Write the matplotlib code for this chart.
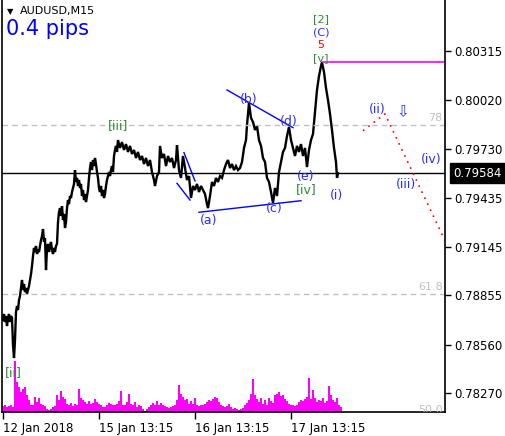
import numpy as np
import matplotlib.pyplot as plt
from matplotlib.transforms import blended_transform_factory

# AUDUSD M15 close path (bar position, price)
bar_x = [3, 4, 5, 6, 7, 8, 9, 10, 11, 12, 13, 14, 15, 16, 17, 18, 19, 20, 21, 22,
         23, 24, 25, 26, 27, 28, 29, 30, 31, 32, 33, 34, 35, 36, 37, 38, 39, 40, 41, 42,
         43, 44, 45, 46, 47, 48, 49, 50, 51, 52, 53, 54, 55, 56, 57, 58, 59, 60, 61, 62,
         63, 64, 65, 66, 67, 68, 69, 70, 71, 72, 73, 74, 75, 76, 77, 78, 79, 80, 81, 82,
         83, 84, 85, 86, 87, 88, 89, 90, 91, 92, 93, 94, 95, 96, 97, 98, 99, 100, 101, 102,
         103, 104, 105, 106, 107, 108, 109, 110, 111, 112, 113, 114, 115, 116, 117, 118, 119,
         120, 122, 124, 126, 128, 130, 132, 134, 136, 138, 140, 142, 144, 146, 148, 150, 152,
         154, 155, 157, 159, 160, 162, 164, 166, 168, 170, 172, 174, 176, 177, 179, 181, 183,
         185, 187, 189, 191, 193, 195, 197, 199, 201, 203, 205, 207, 208, 210, 212, 214, 216,
         218, 220, 222, 224, 226, 228, 230, 232, 234, 236, 238, 240, 242, 244, 246, 247, 249,
         251, 253, 255, 257, 259, 261, 263, 265, 267, 269, 271, 273, 275, 277, 279, 281, 283,
         285, 287, 289, 291, 293, 295, 297, 299, 301, 303, 305, 307, 309, 311, 313, 315, 317,
         319, 321, 322, 324, 326, 328, 330, 332, 334, 336, 337, 338]
close = [0.78708, 0.78744, 0.78696, 0.78732, 0.78672, 0.78720, 0.78744, 0.78696, 0.78732, 0.78720,
         0.78559, 0.78481, 0.78589, 0.78756, 0.78791, 0.78768, 0.78827, 0.78851, 0.78899, 0.78947,
         0.78887, 0.78923, 0.78875, 0.78899, 0.78863, 0.78887, 0.78911, 0.78947, 0.78982, 0.79030,
         0.79090, 0.79138, 0.79114, 0.79150, 0.79102, 0.79126, 0.79114, 0.79150, 0.79185, 0.79209,
         0.79251, 0.79174, 0.79197, 0.79006, 0.79138, 0.79162, 0.79114, 0.79150, 0.79174, 0.79126,
         0.79102, 0.79138, 0.79114, 0.79150, 0.79162, 0.79293, 0.79353, 0.79376, 0.79329, 0.79388,
         0.79305, 0.79341, 0.79257, 0.79293, 0.79376, 0.79424, 0.79400, 0.79448, 0.79436, 0.79472,
         0.79496, 0.79520, 0.79603, 0.79532, 0.79556, 0.79508, 0.79544, 0.79496, 0.79520, 0.79448,
         0.79484, 0.79424, 0.79460, 0.79412, 0.79448, 0.79484, 0.79556, 0.79615, 0.79651, 0.79603,
         0.79663, 0.79627, 0.79675, 0.79639, 0.79591, 0.79556, 0.79496, 0.79472, 0.79508, 0.79448,
         0.79484, 0.79436, 0.79460, 0.79508, 0.79544, 0.79567, 0.79591, 0.79567, 0.79603, 0.79627,
         0.79591, 0.79687, 0.79723, 0.79747, 0.79711, 0.79782, 0.79758,
         0.79735, 0.79770, 0.79723, 0.79758, 0.79711, 0.79747, 0.79699, 0.79723, 0.79675, 0.79711,
         0.79663, 0.79687, 0.79639, 0.79675, 0.79627, 0.79663, 0.79591, 0.79544, 0.79508, 0.79567,
         0.79591, 0.79747, 0.79675, 0.79699, 0.79627, 0.79687, 0.79651, 0.79675, 0.79615, 0.79663,
         0.79752, 0.79603, 0.79556, 0.79687, 0.79615, 0.79544, 0.79567, 0.79436, 0.79508, 0.79484,
         0.79520, 0.79472, 0.79508, 0.79484, 0.79460, 0.79400, 0.79376, 0.79448, 0.79532, 0.79508,
         0.79556, 0.79532, 0.79567, 0.79556, 0.79603, 0.79639, 0.79663, 0.79615, 0.79639, 0.79603,
         0.79627, 0.79603, 0.79615, 0.79651, 0.79735, 0.79782, 0.79872, 0.80003, 0.79914, 0.79890,
         0.79842, 0.79866, 0.79782, 0.79747, 0.79675, 0.79651, 0.79556, 0.79532, 0.79472, 0.79406,
         0.79496, 0.79448, 0.79591, 0.79651, 0.79711, 0.79735, 0.79806, 0.79860, 0.79782, 0.79735,
         0.79687, 0.79747, 0.79711, 0.79758, 0.79687, 0.79735, 0.79621, 0.79723, 0.79782, 0.79818,
         0.79949, 0.80081, 0.80164, 0.80224, 0.80245, 0.80188, 0.80093, 0.80021, 0.79938, 0.79842,
         0.79735, 0.79651, 0.79556, 0.79584]

# tick volume (relative), one value per two bars
vol = [6, 7, 5, 6, 7, 5, 51, 30, 25, 20, 23, 25, 17, 12, 7, 7, 15, 10, 14, 8,
       7, 6, 3, 2, 3, 5, 6, 17, 12, 21, 15, 13, 8, 7, 9, 6, 8, 7, 23, 14,
       12, 10, 8, 11, 8, 9, 13, 10, 8, 7, 5, 5, 7, 9, 8, 7, 7, 8, 11, 21,
       7, 7, 10, 18, 8, 7, 10, 5, 7, 6, 3, 1, 3, 5, 7, 9, 7, 11, 7, 9,
       7, 6, 5, 4, 5, 6, 7, 12, 27, 18, 15, 12, 13, 8, 11, 8, 14, 7, 6, 7,
       7, 8, 10, 12, 11, 13, 15, 14, 10, 7, 6, 5, 6, 8, 5, 3, 4, 3, 2, 3,
       4, 7, 9, 12, 18, 33, 17, 13, 10, 14, 8, 12, 7, 14, 11, 9, 17, 18, 20, 16,
       17, 13, 11, 8, 7, 7, 6, 7, 10, 12, 11, 13, 15, 34, 13, 22, 14, 10, 12, 11,
       14, 9, 11, 26, 17, 12, 10, 14, 7, 5]

price_ticks = [0.80315, 0.80020, 0.79730, 0.79435, 0.79145, 0.78855, 0.78560, 0.78270]
date_ticks = [3, 99, 195, 291]
date_labels = ['12 Jan 2018', '15 Jan 13:15', '16 Jan 13:15', '17 Jan 13:15']

current = 0.79584
fib_names = ['78', '61.8', '50.0']
fib_prices = [0.79872, 0.78863, 0.78128]

# wave counts: text, bar, price, colour, size
blue = '#2b2bff'
green = '#2e8b2e'
waves = [('[2]', 321, 0.80505, green, 8), ('(C)', 321, 0.80427, blue, 8),
         ('5', 321, 0.80350, 'red', 8), ('[v]', 321, 0.80274, green, 8),
         ('(b)', 249, 0.80027, blue, 9), ('(d)', 289, 0.79890, blue, 9),
         ('(a)', 209, 0.79299, blue, 9), ('(c)', 274, 0.79371, blue, 9),
         ('(e)', 306, 0.79562, blue, 9), ('[iv]', 306, 0.79488, green, 9),
         ('(i)', 337, 0.79454, blue, 9), ('(ii)', 377, 0.79967, blue, 9),
         ('(iii)', 406, 0.79514, blue, 9), ('(iv)', 431, 0.79669, blue, 9),
         ('[iii]', 118, 0.79866, green, 9), ('[ii]', 13, 0.78392, green, 9)]

# trend lines (x0, p0, x1, p1)
blue_lines = [(227, 0.80081, 293, 0.79856), (199, 0.79351, 301, 0.79420),
              (184, 0.79707, 195, 0.79538), (177, 0.79524, 190, 0.79424)]
proj_x = [363, 385, 447]
proj_p = [0.79838, 0.79938, 0.79157]

W, H = 505, 436
fig = plt.figure(figsize=(W / 100, H / 100), dpi=100)
rect = [2 / W, 24 / H, 443 / W, 412 / H]

# volume behind the price window
vax = fig.add_axes(rect, zorder=0)
vax.bar(np.arange(len(vol)) * 2 + 2, vol, width=2, align='edge', color='#ff00ff', linewidth=0)
vax.set_xlim(2, 445)
vax.set_ylim(0, 412)
vax.set_axis_off()

ax = fig.add_axes(rect, zorder=1)
ax.set_facecolor('none')
ax.set_xlim(2, 445)
ax.set_ylim(0.78159, 0.80618)

ax.plot(bar_x, close, color='black', lw=1.7, solid_joinstyle='miter')

ax.axhline(current, color='black', lw=1)
peak = max(close)
ax.plot([bar_x[close.index(peak)] + 1, 445], [peak, peak], color='#ff00ff', lw=1.2)

trans = blended_transform_factory(ax.transAxes, ax.transData)
for name, p in zip(fib_names, fib_prices):
    ax.axhline(p, color='#c0c0c0', lw=1, ls=(0, (4, 3)))
    ax.annotate(name, (0.995, p), xycoords=trans, xytext=(0, 1.5), textcoords='offset points',
                ha='right', va='bottom', fontsize=8, color='#c0c0c0', annotation_clip=False,
                clip_on=True)

for x0, p0, x1, p1 in blue_lines:
    ax.plot([x0, x1], [p0, p1], color='blue', lw=1)
ax.plot(proj_x, proj_p, color='red', lw=1.2, ls=(0, (1, 3)))

for txt, x, p, c, fs in waves:
    ax.text(x, p, txt, color=c, fontsize=fs, ha='center', va='center')
ax.text(403, 0.79949, '\u21e9', color=blue, fontsize=11, ha='center', va='center')

# axes styling like the terminal window
ax.spines['top'].set_visible(False)
for s in ['left', 'right', 'bottom']:
    ax.spines[s].set_linewidth(1.2)
ax.yaxis.tick_right()
ax.set_yticks(price_ticks)
ax.set_yticklabels(['%.5f' % t for t in price_ticks])
ax.tick_params(axis='y', length=4, width=1, pad=3, labelsize=8.5)
ax.set_xticks(date_ticks)
ax.set_xticklabels(date_labels, ha='left')
ax.tick_params(axis='x', length=5, width=1, pad=2, labelsize=8.5)

ax.annotate('%.5f' % current, (1.0, current), xycoords=trans, xytext=(6, 0),
            textcoords='offset points', ha='left', va='center', fontsize=8.5, color='white',
            bbox=dict(boxstyle='square,pad=0.3', fc='black', ec='black'), annotation_clip=False)

fig.text(7 / W, 1 - 12 / H, '\u25bc', fontsize=6, va='center', ha='left')
fig.text(20 / W, 1 - 11 / H, 'AUDUSD,M15', fontsize=8, va='center', ha='left')
fig.text(6 / W, 1 - 35 / H, '0.4 pips', fontsize=15, color='#0000ff', va='baseline', ha='left')

fig.savefig('out.png', dpi=100)
